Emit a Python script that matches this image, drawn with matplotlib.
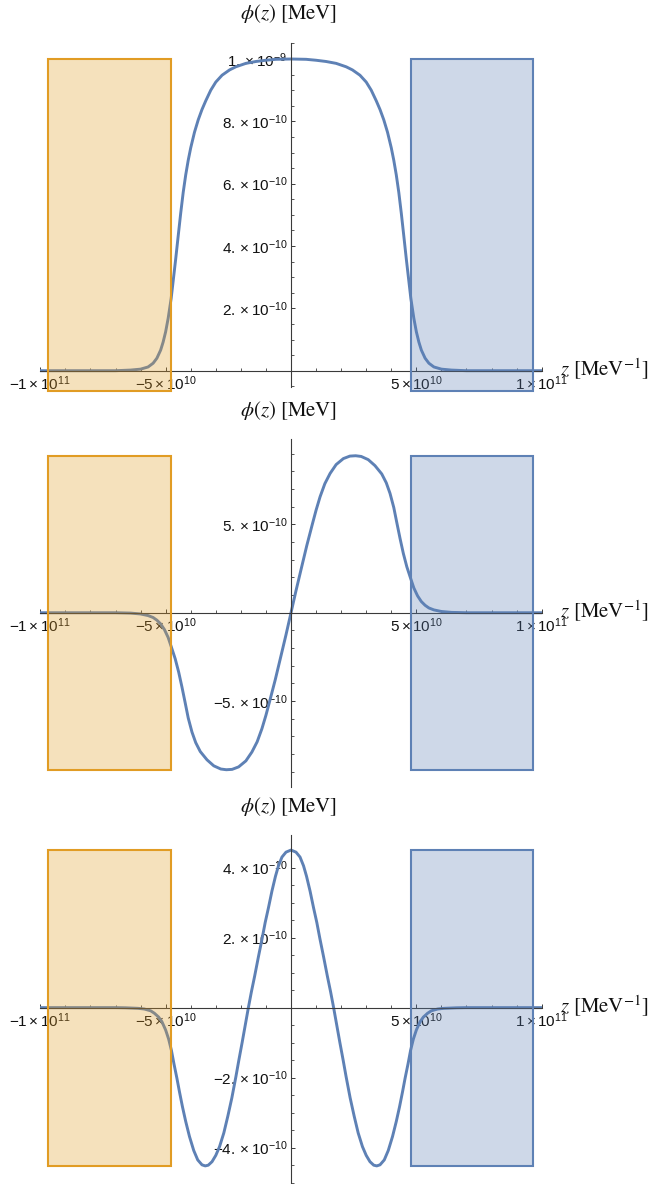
import numpy as np
import matplotlib
matplotlib.use("Agg")
import matplotlib.pyplot as plt
from matplotlib.patches import Rectangle

# ---------------- data (z in units of 1e10 MeV^-1, phi in units of 1e-9 MeV) ----------------
z_ground = [-10, -8, -7, -6.4, -6.0, -5.7, -5.5, -5.35, -5.2, -5.1, -5.0, -4.9, -4.78, -4.7, -4.6,
            -4.5, -4.4, -4.3, -4.2, -4.1, -4.0, -3.85, -3.7, -3.55, -3.4, -3.2, -3.0, -2.75, -2.45,
            -2.2, -1.8, -1.4, -1.0, -0.6, 0.0, 0.6, 1.0, 1.4, 1.8, 2.2, 2.45, 2.75, 3.0, 3.2, 3.4,
            3.55, 3.7, 3.85, 4.0, 4.1, 4.2, 4.3, 4.4, 4.5, 4.6, 4.7, 4.78, 4.9, 5.0, 5.1, 5.2, 5.35,
            5.5, 5.7, 6.0, 6.4, 7, 8, 10]
phi_ground = [0, 0, 0, 0.002, 0.005, 0.012, 0.024, 0.040, 0.066, 0.092, 0.125, 0.168, 0.232, 0.288,
              0.358, 0.432, 0.505, 0.572, 0.628, 0.675, 0.715, 0.765, 0.805, 0.838, 0.866, 0.900,
              0.926, 0.948, 0.965, 0.975, 0.986, 0.992, 0.996, 0.999, 1.000, 0.999, 0.996, 0.992,
              0.986, 0.975, 0.965, 0.948, 0.926, 0.900, 0.866, 0.838, 0.805, 0.765, 0.715, 0.675,
              0.628, 0.572, 0.505, 0.432, 0.358, 0.288, 0.232, 0.168, 0.125, 0.092, 0.066, 0.040,
              0.024, 0.012, 0.005, 0.002, 0, 0, 0]

z_first = [-10, -8, -7, -6.4, -6.0, -5.7, -5.5, -5.35, -5.2, -5.05, -4.9, -4.77, -4.62, -4.48, -4.35,
           -4.22, -4.1, -3.95, -3.8, -3.62, -3.35, -3.08, -2.8, -2.58, -2.35, -2.09, -1.8, -1.56,
           -1.35, -1.16, -1.0, -0.85, -0.63, -0.41, -0.2, 0.0, 0.2, 0.41, 0.63, 0.85, 1.0, 1.16,
           1.35, 1.56, 1.8, 2.09, 2.35, 2.58, 2.8, 3.08, 3.35, 3.62, 3.8, 3.95, 4.1, 4.22, 4.35,
           4.48, 4.62, 4.77, 4.9, 5.05, 5.2, 5.35, 5.5, 5.7, 6.0, 6.4, 7, 8, 10]
phi_first = [0, 0, 0, -0.002, -0.007, -0.016, -0.027, -0.042, -0.063, -0.095, -0.140, -0.195, -0.260,
             -0.336, -0.420, -0.510, -0.595, -0.675, -0.735, -0.785, -0.832, -0.866, -0.884, -0.888,
             -0.886, -0.872, -0.838, -0.788, -0.730, -0.656, -0.580, -0.500, -0.380, -0.250, -0.125,
             0.0, 0.125, 0.250, 0.380, 0.500, 0.580, 0.656, 0.730, 0.788, 0.838, 0.872, 0.886,
             0.888, 0.884, 0.866, 0.832, 0.785, 0.735, 0.675, 0.595, 0.510, 0.420, 0.336, 0.260,
             0.195, 0.140, 0.095, 0.063, 0.042, 0.027, 0.016, 0.007, 0.002, 0, 0, 0]

z_second = [-10, -8, -7, -6.6, -6.1, -5.85, -5.6, -5.45, -5.28, -5.15, -5.0, -4.88, -4.77, -4.67,
            -4.55, -4.45, -4.33, -4.2, -4.05, -3.88, -3.72, -3.55, -3.42, -3.3, -3.15, -3.0, -2.85,
            -2.68, -2.52, -2.36, -2.2, -2.08, -1.95, -1.82, -1.70, -1.58, -1.45, -1.3, -1.15, -1.03,
            -0.9, -0.76, -0.62, -0.5, -0.36, -0.2, 0.0, 0.2, 0.36, 0.5, 0.62, 0.76, 0.9, 1.03, 1.15,
            1.3, 1.45, 1.58, 1.70, 1.82, 1.95, 2.08, 2.2, 2.36, 2.52, 2.68, 2.85, 3.0, 3.15, 3.3,
            3.42, 3.55, 3.72, 3.88, 4.05, 4.2, 4.33, 4.45, 4.55, 4.67, 4.77, 4.88, 5.0, 5.15, 5.28,
            5.45, 5.6, 5.85, 6.1, 6.6, 7, 8, 10]
phi_second = [0, 0, 0, -0.0005, -0.002, -0.004, -0.009, -0.016, -0.027, -0.040, -0.064, -0.090,
              -0.122, -0.160, -0.202, -0.240, -0.283, -0.325, -0.368, -0.408, -0.435, -0.449,
              -0.452, -0.450, -0.440, -0.422, -0.397, -0.358, -0.310, -0.258, -0.198, -0.150,
              -0.100, -0.048, 0.0, 0.045, 0.090, 0.145, 0.198, 0.243, 0.285, 0.333, 0.375, 0.405,
              0.430, 0.444, 0.450, 0.444, 0.430, 0.405, 0.375, 0.333, 0.285, 0.243, 0.198, 0.145,
              0.090, 0.045, 0.0, -0.048, -0.100, -0.150, -0.198, -0.258, -0.310, -0.358, -0.397,
              -0.422, -0.440, -0.450, -0.452, -0.449, -0.435, -0.408, -0.368, -0.325, -0.283,
              -0.240, -0.202, -0.160, -0.122, -0.090, -0.064, -0.040, -0.027, -0.016, -0.009,
              -0.004, -0.002, -0.0005, 0, 0, 0]

# shaded regions (z-extent, in 1e10) and their vertical extent per panel (in 1e-9)
left_region = [-9.68, -4.79]
right_region = [4.77, 9.64]
region_y = [(-0.064, 1.0), (-0.887, 0.887), (-0.452, 0.450)]

x_major = [-10, -5, 5, 10]
x_major_labels = [r"$-1\times10^{11}$", r"$-5\times10^{10}$", r"$5\times10^{10}$", r"$1\times10^{11}$"]

y_major = [[0.2, 0.4, 0.6, 0.8, 1.0], [-0.5, 0.5], [-0.4, -0.2, 0.2, 0.4]]
y_major_labels = [
    [r"$2.\times10^{-10}$", r"$4.\times10^{-10}$", r"$6.\times10^{-10}$", r"$8.\times10^{-10}$", r"$1.\times10^{-9}$"],
    [r"$-5.\times10^{-10}$", r"$5.\times10^{-10}$"],
    [r"$-4.\times10^{-10}$", r"$-2.\times10^{-10}$", r"$2.\times10^{-10}$", r"$4.\times10^{-10}$"],
]

# ---------------- style ----------------
plt.rcParams["font.family"] = ["Liberation Sans", "DejaVu Sans"]
plt.rcParams["mathtext.fontset"] = "custom"
plt.rcParams["mathtext.rm"] = "Liberation Sans"
plt.rcParams["mathtext.it"] = "Liberation Sans:italic"
plt.rcParams["mathtext.bf"] = "Liberation Sans:bold"

W, H = 652, 1184
fig = plt.figure(figsize=(W / 100, H / 100), dpi=100)

BLUE = "#5E81B5"
ORANGE = "#E19C24"
AXC = "#3a3a3a"
XL, XR = 40.3, 541.7          # pixel extent of x axis
panel_px = [(42.7, 387.0), (439.3, 786.7), (835.0, 1182.7)]
ylims = [(-0.0523, 1.0523), (-0.984, 0.981), (-0.500, 0.493)]
minor_step = [0.05, 0.1, 0.05]

curves = [(z_ground, phi_ground), (z_first, phi_first), (z_second, phi_second)]

for i in range(3):
    top, bot = panel_px[i]
    ax = fig.add_axes([XL / W, 1 - bot / H, (XR - XL) / W, (bot - top) / H])
    ax.set_xlim(-10, 10)
    ax.set_ylim(*ylims[i])
    ax.patch.set_alpha(0)

    z, phi = curves[i]
    ax.plot(z, phi, color=BLUE, lw=2.1, zorder=2, solid_capstyle="round")

    y0, y1 = region_y[i]
    ax.add_patch(Rectangle((left_region[0], y0), left_region[1] - left_region[0], y1 - y0,
                           facecolor=(0xE1 / 255, 0x9C / 255, 0x24 / 255, 0.3), edgecolor="none",
                           zorder=3, clip_on=False))
    ax.add_patch(Rectangle((left_region[0], y0), left_region[1] - left_region[0], y1 - y0,
                           facecolor="none", edgecolor=ORANGE, lw=1.5, zorder=3.1, clip_on=False))
    ax.add_patch(Rectangle((right_region[0], y0), right_region[1] - right_region[0], y1 - y0,
                           facecolor=(0x5E / 255, 0x81 / 255, 0xB5 / 255, 0.3), edgecolor="none",
                           zorder=3, clip_on=False))
    ax.add_patch(Rectangle((right_region[0], y0), right_region[1] - right_region[0], y1 - y0,
                           facecolor="none", edgecolor=BLUE, lw=1.5, zorder=3.1, clip_on=False))

    for s in ["top", "right"]:
        ax.spines[s].set_visible(False)
    ax.spines["left"].set_position(("data", 0))
    ax.spines["bottom"].set_position(("data", 0))
    for s in ["left", "bottom"]:
        ax.spines[s].set_color(AXC)
        ax.spines[s].set_linewidth(0.8)
        ax.spines[s].set_zorder(2.5)

    ax.set_xticks(x_major)
    ax.set_xticklabels(x_major_labels)
    ax.set_xticks([v for v in range(-10, 11) if v not in x_major and v != 0], minor=True)

    ax.set_yticks(y_major[i])
    ax.set_yticklabels(y_major_labels[i])
    lo, hi = ylims[i]
    st = minor_step[i]
    mins = []
    k = int(np.ceil(lo / st))
    while k * st <= hi:
        v = round(k * st, 6)
        if v != 0 and all(abs(v - m) > 1e-6 for m in y_major[i]):
            mins.append(v)
        k += 1
    ax.set_yticks(mins, minor=True)

    ax.tick_params(axis="both", which="major", direction="in", length=3.2, width=0.7,
                   color=AXC, labelsize=11, labelcolor="#111111")
    ax.tick_params(axis="both", which="minor", direction="in", length=1.9, width=0.6, color=AXC)
    ax.tick_params(axis="y", which="major", pad=2.5)
    ax.tick_params(axis="x", which="major", pad=2.5)

    # axis labels
    axis_y_px = top + ylims[i][1] / (ylims[i][1] - ylims[i][0]) * (bot - top)
    fig.text(289 / W, 1 - (top - 29) / H, r"$\phi(z)\ [\mathrm{MeV}]$", ha="center", va="center",
             fontsize=15, math_fontfamily="stix", color="#111111")
    fig.text(560 / W, 1 - (axis_y_px - 1) / H, r"$z\ [\mathrm{MeV}^{-1}]$", ha="left", va="center",
             fontsize=15, math_fontfamily="stix", color="#111111")

fig.savefig("out.png", dpi=100)
